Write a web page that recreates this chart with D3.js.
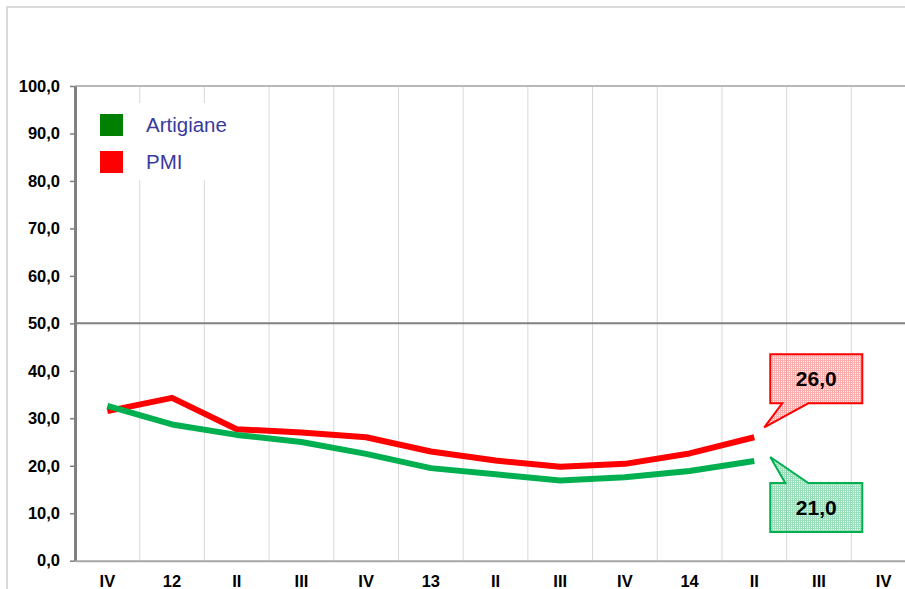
<!DOCTYPE html>
<html>
<head>
<meta charset="utf-8">
<script src="https://cdn.jsdelivr.net/npm/d3@7"></script>
<style>
  body { margin: 0; background: #fff; }
  svg { display: block; font-family: "Liberation Sans", Arial, sans-serif; }
</style>
</head>
<body>
<svg width="905" height="589"></svg>
<script>
// categories (quarters, year marks shown as two digits)
const quarters = ['IV', '12', 'II', 'III', 'IV', '13', 'II', 'III', 'IV', '14', 'II', 'III', 'IV'];
const artigiane = [32.6, 28.7, 26.5, 25.0, 22.5, 19.5, 18.2, 16.9, 17.6, 18.9, 21.0];
const pmi = [31.5, 34.3, 27.7, 27.0, 26.0, 23.0, 21.1, 19.8, 20.4, 22.6, 26.0];
const yTicks = [0, 10, 20, 30, 40, 50, 60, 70, 80, 90, 100];

const svg = d3.select('svg');
const margin = { top: 86, left: 75 };
const plotRight = 916; // plot area runs past the window edge
const bottomY = 560.7;

const fmt = (v) => v.toFixed(1).replace('.', ',');

/* ---- outer frame ---- */
svg.append('path')
  .attr('d', 'M7,600 L7,7 L920,7')
  .attr('fill', 'none')
  .attr('stroke', '#d9d9d9')
  .attr('stroke-width', 2);

/* ---- scales ---- */
const x = d3.scaleBand()
  .domain(d3.range(quarters.length))
  .range([margin.left, plotRight]);

const y = d3.scaleLinear()
  .domain([0, 100])
  .range([bottomY, margin.top]);

/* ---- patterns for callouts ---- */
const defs = svg.append('defs');
function gridPattern(id, color) {
  const p = defs.append('pattern')
    .attr('id', id)
    .attr('width', 2)
    .attr('height', 2)
    .attr('patternUnits', 'userSpaceOnUse');
  p.append('rect').attr('width', 2).attr('height', 2).attr('fill', color).attr('opacity', 0.4);
  p.append('rect').attr('x', 1).attr('y', 1).attr('width', 1).attr('height', 1).attr('fill', '#fff');
}
gridPattern('redGrid', '#ff3333');
gridPattern('greenGrid', '#00b050');

/* ---- vertical gridlines ---- */
svg.append('g')
  .selectAll('line')
  .data(d3.range(1, quarters.length + 1))
  .join('line')
  .attr('x1', (i) => margin.left + i * x.step())
  .attr('x2', (i) => margin.left + i * x.step())
  .attr('y1', margin.top)
  .attr('y2', bottomY)
  .attr('stroke', '#d9d9d9')
  .attr('stroke-width', 1);

/* ---- horizontal lines at 100 and 50 ---- */
svg.append('line')
  .attr('x1', margin.left).attr('x2', plotRight)
  .attr('y1', y(100)).attr('y2', y(100))
  .attr('stroke', '#b8b8b8').attr('stroke-width', 2);
svg.append('line')
  .attr('x1', margin.left).attr('x2', plotRight)
  .attr('y1', y(50)).attr('y2', y(50))
  .attr('stroke', '#808080').attr('stroke-width', 2);

/* ---- legend (white box over grid) ---- */
const legend = svg.append('g');
legend.append('rect')
  .attr('x', 80).attr('y', 103).attr('width', 182).attr('height', 77)
  .attr('fill', '#fff');
const legendItems = [
  { name: 'Artigiane', color: '#008000' },
  { name: 'PMI', color: '#ff0000' }
];
legend.selectAll('g')
  .data(legendItems)
  .join('g')
  .attr('transform', (d, i) => `translate(100, ${114 + i * 37})`)
  .each(function (d) {
    const g = d3.select(this);
    g.append('rect').attr('width', 23).attr('height', 22).attr('fill', d.color);
    g.append('text')
      .attr('x', 46).attr('y', 18)
      .attr('font-size', 20.5)
      .attr('fill', '#3a3a9c')
      .text(d.name);
  });

/* ---- y axis ---- */
const yAxis = svg.append('g')
  .attr('transform', `translate(${margin.left},0)`)
  .call(d3.axisLeft(y).tickValues(yTicks).tickFormat(fmt).tickSize(5).tickSizeOuter(0));
yAxis.select('.domain').attr('stroke', '#808080').attr('stroke-width', 3);
yAxis.selectAll('.tick line').attr('stroke', '#808080').attr('stroke-width', 1.5);
yAxis.selectAll('.tick text')
  .attr('x', -15)
  .attr('font-size', 16.5)
  .attr('font-weight', 'bold')
  .attr('fill', '#000')
  .attr('font-family', '"Liberation Sans", Arial, sans-serif');

/* ---- x axis ---- */
const xAxis = svg.append('g')
  .attr('transform', `translate(0,${bottomY})`)
  .call(d3.axisBottom(x).tickFormat((i) => quarters[i]).tickSize(0));
xAxis.select('.domain').attr('stroke', '#a6a6a6').attr('stroke-width', 2);
xAxis.selectAll('.tick text')
  .attr('y', 15)
  .attr('font-size', 16.5)
  .attr('font-weight', 'bold')
  .attr('fill', '#000')
  .attr('font-family', '"Liberation Sans", Arial, sans-serif');

/* ---- lines ---- */
const cx = (i) => x(i) + x.bandwidth() / 2;
const line = d3.line()
  .x((d, i) => cx(i))
  .y((d) => y(d));

svg.append('path')
  .datum(pmi)
  .attr('d', line)
  .attr('fill', 'none')
  .attr('stroke', '#ff0000')
  .attr('stroke-width', 6)
  .attr('stroke-linejoin', 'round');

svg.append('path')
  .datum(artigiane)
  .attr('d', line)
  .attr('fill', 'none')
  .attr('stroke', '#00b050')
  .attr('stroke-width', 6)
  .attr('stroke-linejoin', 'round');

/* ---- callouts for last values ---- */
function callout(value, series, color, patternId, above) {
  const i = series.length - 1;
  const px = cx(i);
  const py = y(value);
  const w = 92, h = 49;
  const bx = px + 16;
  let by, tip, pts;
  if (above) {
    by = py - 83;
    tip = [px + 10, py - 10];
    pts = [[bx, by], [bx + w, by], [bx + w, by + h], [px + 54, by + h], tip, [px + 28, by + h], [bx, by + h]];
  } else {
    by = py + 22;
    tip = [px + 16, py - 4];
    pts = [[bx, by], [px + 31, by], tip, [px + 54, by], [bx + w, by], [bx + w, by + h], [bx, by + h]];
  }
  svg.append('path')
    .attr('d', 'M' + pts.map((p) => p.join(',')).join('L') + 'Z')
    .attr('fill', `url(#${patternId})`)
    .attr('stroke', color)
    .attr('stroke-width', 2);
  svg.append('text')
    .attr('x', bx + w / 2)
    .attr('y', by + h / 2 + 7)
    .attr('text-anchor', 'middle')
    .attr('font-size', 21)
    .attr('font-weight', 'bold')
    .attr('fill', '#000')
    .text(fmt(value));
}
callout(pmi[pmi.length - 1], pmi, '#ff0000', 'redGrid', true);
callout(artigiane[artigiane.length - 1], artigiane, '#00b050', 'greenGrid', false);
</script>
</body>
</html>
